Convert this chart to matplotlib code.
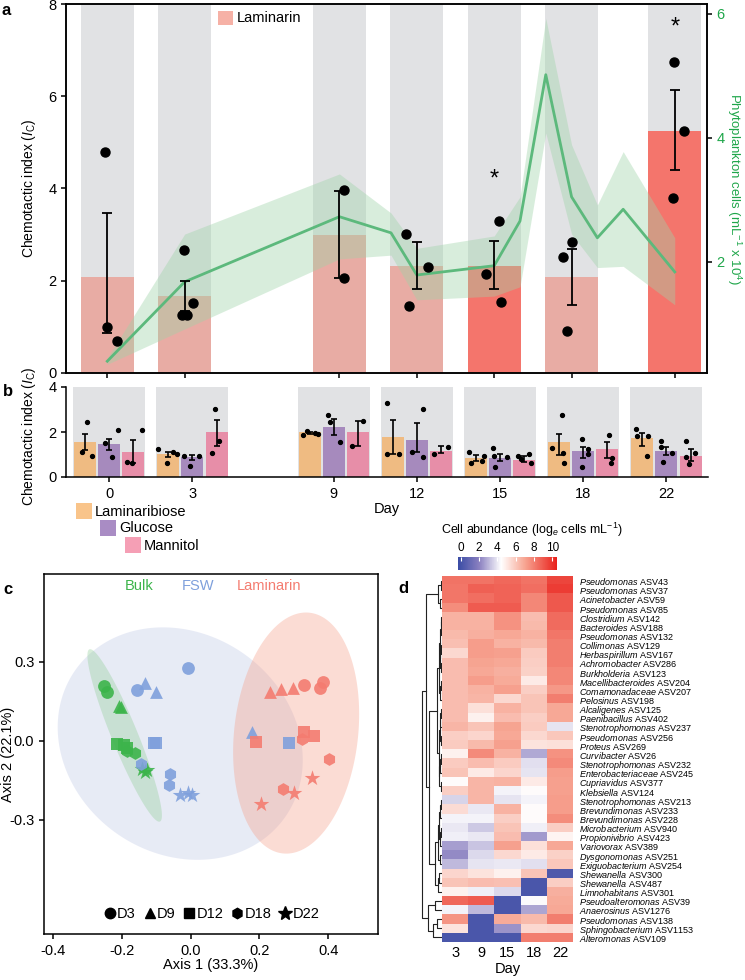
import numpy as np
import matplotlib
matplotlib.use("Agg")
import matplotlib.pyplot as plt
from matplotlib.patches import Rectangle, Polygon
from matplotlib.lines import Line2D
from matplotlib.colors import LinearSegmentedColormap

plt.rcParams['font.family'] = ['Liberation Sans', 'DejaVu Sans']
plt.rcParams['mathtext.fontset'] = 'custom'
plt.rcParams['mathtext.rm'] = 'Liberation Sans'
plt.rcParams['mathtext.it'] = 'Liberation Sans:italic'
plt.rcParams['mathtext.bf'] = 'Liberation Sans:bold'
plt.rcParams['axes.linewidth'] = 1.1
plt.rcParams['xtick.major.width'] = 1.1
plt.rcParams['ytick.major.width'] = 1.1

# ---------------- panel a: laminarin chemotaxis + phytoplankton
days = [0, 3, 9, 12, 15, 18, 22]
lam_mean = [2.08, 1.68, 3.0, 2.33, 2.33, 2.08, 5.25]
lam_lo = [0.86, 1.35, 2.05, 1.82, 1.82, 1.48, 4.41]
lam_hi = [3.47, 2.0, 3.95, 2.83, 2.86, 2.69, 6.13]
lam_sig = [False, False, False, False, True, False, True]
lam_pts = [
    [(-0.08, 4.79), (0.0, 1.0), (0.39, 0.69)],
    [(-0.04, 2.66), (-0.12, 1.26), (0.08, 1.26), (0.31, 1.52)],
    [(0.19, 3.97), (0.19, 2.05)],
    [(-0.43, 3.01), (0.43, 2.29), (-0.31, 1.45)],
    [(0.19, 3.30), (-0.31, 2.15), (0.27, 1.54)],
    [(-0.35, 2.52), (0.0, 2.84), (-0.19, 0.91)],
    [(-0.04, 6.75), (0.35, 5.25), (-0.08, 3.79)],
]
star_y = [None, None, None, None, 4.2, None, 7.5]

phyto_day = [0, 3, 9, 11, 12, 15, 16, 17, 18, 19, 20, 22]
phyto_mean = [0.40, 1.68, 2.73, 2.47, 1.79, 1.94, 2.66, 5.02, 3.05, 2.39, 2.85, 1.84]
phyto_lo = [0.35, 0.92, 2.05, 2.11, 1.39, 1.45, 1.6, 4.08, 2.45, 1.91, 1.93, 1.31]
phyto_hi = [0.45, 2.45, 3.42, 2.79, 2.22, 2.42, 3.05, 5.93, 3.89, 2.92, 3.78, 2.39]

# ---------------- panel b: other substrates
b_pos = [0, 1, 2.7, 3.7, 4.7, 5.7, 6.7]
lamb_mean = [1.55, 1.0, 2.0, 1.78, 0.85, 1.56, 1.73]
lamb_lo = [1.2, 0.9, 1.9, 1.02, 0.72, 0.98, 1.38]
lamb_hi = [1.91, 1.12, 2.0, 2.53, 0.98, 1.91, 1.96]
lamb_pts = [
    [(0.02, 2.44), (-0.04, 1.11), (0.08, 0.93)],
    [(-0.12, 1.24), (-0.02, 0.62), (0.06, 1.11), (0.1, 1.0)],
    [(-0.08, 1.87), (-0.03, 2.04), (0.07, 1.95), (0.1, 1.9)],
    [(-0.07, 3.28), (-0.07, 1.02), (0.07, 1.02)],
    [(-0.08, 1.1), (-0.06, 0.62), (0.07, 0.72), (0.1, 0.95)],
    [(0.03, 2.75), (-0.08, 1.29), (0.05, 1.07), (0.06, 0.62)],
    [(-0.08, 2.13), (-0.06, 1.82), (0.07, 1.82), (0.06, 0.93)],
]
glu_mean = [1.47, 0.9, 2.22, 1.64, 0.85, 1.16, 1.16]
glu_lo = [1.2, 0.75, 1.87, 1.11, 0.72, 0.84, 0.98]
glu_hi = [1.68, 0.97, 2.58, 2.38, 1.02, 1.34, 1.33]
glu_pts = [
    [(0.1, 2.07), (-0.05, 1.5), (0.03, 0.88)],
    [(-0.1, 0.93), (-0.03, 0.49), (0.08, 0.93)],
    [(-0.07, 2.75), (-0.05, 2.45), (0.08, 1.55)],
    [(0.07, 3.02), (-0.06, 1.11), (0.07, 0.88)],
    [(-0.08, 1.29), (-0.07, 0.93), (0.08, 0.89), (-0.06, 0.44)],
    [(-0.02, 1.68), (0.06, 1.24), (0.06, 1.02), (-0.02, 0.44)],
    [(-0.06, 1.6), (-0.07, 1.33), (0.07, 1.07), (-0.04, 0.67)],
]
man_mean = [1.1, 2.0, 2.0, 1.16, 0.75, 1.24, 0.93]
man_lo = [0.62, 1.38, 1.38, 1.05, 0.65, 0.85, 0.7]
man_hi = [1.63, 2.53, 2.49, 1.38, 0.95, 1.56, 1.24]
man_pts = [
    [(0.1, 2.1), (-0.08, 0.67), (-0.02, 0.62)],
    [(-0.02, 3.02), (0.03, 1.6), (-0.05, 1.07)],
    [(-0.07, 1.38), (0.06, 2.48)],
    [(0.08, 1.34), (-0.08, 1.02)],
    [(-0.07, 0.93), (0.06, 1.02), (0.08, 0.62), (-0.04, 0.8)],
    [(0.02, 1.87), (0.05, 0.84), (0.04, 0.6)],
    [(-0.05, 1.6), (0.05, 1.07), (-0.02, 0.58), (-0.05, 0.89)],
]

# ---------------- panel c: PCoA
bulk_x = [-0.252, -0.242, -0.208, -0.203, -0.213, -0.194, -0.186, -0.186, -0.161, -0.140, -0.132, -0.128]
bulk_y = [0.209, 0.185, 0.133, 0.128, -0.011, -0.015, -0.025, -0.04, -0.046, -0.108, -0.117, -0.11]
bulk_day = ['D3', 'D3', 'D9', 'D9', 'D12', 'D12', 'D12', 'D18', 'D18', 'D22', 'D22', 'D22']
fsw_x = [-0.008, -0.157, -0.132, -0.100, 0.178, -0.106, -0.101, 0.285, -0.060, -0.064, -0.144, -0.031, -0.007, 0.003]
fsw_y = [0.276, 0.194, 0.220, 0.185, 0.035, -0.009, -0.006, -0.009, -0.125, -0.167, -0.087, -0.205, -0.196, -0.205]
fsw_day = ['D3', 'D3', 'D9', 'D9', 'D9', 'D12', 'D12', 'D12', 'D18', 'D18', 'D18', 'D22', 'D22', 'D22']
lamc_x = [0.330, 0.375, 0.384, 0.231, 0.263, 0.299, 0.191, 0.330, 0.358, 0.324, 0.404, 0.268, 0.205, 0.300, 0.354]
lamc_y = [0.213, 0.203, 0.225, 0.187, 0.197, 0.200, -0.003, 0.033, 0.020, 0.006, -0.068, -0.182, -0.241, -0.199, -0.139]
lamc_day = ['D3', 'D3', 'D3', 'D9', 'D9', 'D9', 'D12', 'D12', 'D12', 'D18', 'D18', 'D18', 'D22', 'D22', 'D22']
# ellipse: centre, semi-axis vector 1, semi-axis vector 2
bulk_ell = [(-0.1915, 0.021), (-0.1025, 0.327), (0.035, 0.0187)]
fsw_ell = [(-0.03, -0.01), (-0.305, 0.279), (0.184, 0.342)]
lamc_ell = [(0.307, 0.030), (0.039, 0.457), (0.179, -0.026)]
day_markers = {'D3': 'o', 'D9': '^', 'D12': 's', 'D18': 'h', 'D22': '*'}

# ---------------- panel d: heatmap
heat_days = [3, 9, 15, 18, 22]
taxa = [
    ('Pseudomonas', 'ASV43'), ('Pseudomonas', 'ASV37'), ('Acinetobacter', 'ASV59'),
    ('Pseudomonas', 'ASV85'), ('Clostridium', 'ASV142'), ('Bacteroides', 'ASV188'),
    ('Pseudomonas', 'ASV132'), ('Collimonas', 'ASV129'), ('Herbaspirillum', 'ASV167'),
    ('Achromobacter', 'ASV286'), ('Burkholderia', 'ASV123'), ('Macellibacteroides', 'ASV204'),
    ('Comamonadaceae', 'ASV207'), ('Pelosinus', 'ASV198'), ('Alcaligenes', 'ASV125'),
    ('Paenibacillus', 'ASV402'), ('Stenotrophomonas', 'ASV237'), ('Pseudomonas', 'ASV256'),
    ('Proteus', 'ASV269'), ('Curvibacter', 'ASV26'), ('Stenotrophomonas', 'ASV232'),
    ('Enterobacteriaceae', 'ASV245'), ('Cupriavidus', 'ASV377'), ('Klebsiella', 'ASV124'),
    ('Stenotrophomonas', 'ASV213'), ('Brevundimonas', 'ASV233'), ('Brevundimonas', 'ASV228'),
    ('Microbacterium', 'ASV940'), ('Propionivibrio', 'ASV423'), ('Variovorax', 'ASV389'),
    ('Dysgonomonas', 'ASV251'), ('Exiguobacterium', 'ASV254'), ('Shewanella', 'ASV300'),
    ('Shewanella', 'ASV487'), ('Limnohabitans', 'ASV301'), ('Pseudoalteromonas', 'ASV39'),
    ('Anaerosinus', 'ASV1276'), ('Pseudomonas', 'ASV138'), ('Sphingobacterium', 'ASV1153'),
    ('Alteromonas', 'ASV109'),
]
abundance = np.array([
    [8.3, 8.3, 8.6, 8.3, 9.5], [8.2, 8.8, 8.7, 8.4, 9.7], [8.2, 8.4, 8.7, 7.8, 9.0],
    [7.6, 8.9, 8.9, 7.8, 9.0], [6.6, 6.6, 7.5, 6.3, 8.5], [6.6, 6.6, 7.5, 6.4, 8.5],
    [6.4, 6.7, 6.9, 6.6, 8.2], [6.2, 7.2, 6.6, 6.4, 8.0], [5.5, 7.2, 7.1, 5.9, 8.0],
    [6.3, 7.0, 6.9, 5.8, 8.0], [6.3, 6.9, 6.7, 5.7, 7.8], [6.3, 7.2, 6.8, 5.0, 7.8],
    [6.3, 6.6, 7.1, 5.8, 7.3], [6.3, 6.5, 5.5, 6.1, 8.0], [6.3, 5.3, 6.6, 6.1, 6.9],
    [6.3, 4.8, 6.3, 5.8, 6.9], [6.5, 6.1, 7.0, 5.9, 3.9], [5.8, 5.6, 6.9, 5.5, 6.0],
    [5.9, 6.4, 7.1, 5.2, 5.3], [4.8, 7.7, 6.6, 2.8, 7.5], [5.9, 6.3, 5.9, 3.8, 7.7],
    [6.1, 5.0, 5.6, 3.9, 7.2], [4.5, 6.5, 6.6, 5.0, 7.1], [5.8, 6.5, 4.2, 4.5, 7.1],
    [3.6, 6.5, 3.9, 4.2, 7.2], [5.4, 4.0, 6.6, 4.5, 7.2], [4.2, 4.2, 5.8, 4.5, 7.6],
    [4.0, 3.4, 6.1, 4.1, 5.8], [4.1, 4.0, 6.3, 2.5, 4.7], [2.6, 3.3, 7.1, 5.3, 6.9],
    [2.2, 3.7, 5.5, 5.0, 5.7], [3.1, 3.9, 4.0, 3.8, 6.0], [5.6, 5.2, 4.8, 6.1, 0.3],
    [6.1, 6.3, 6.2, 0.2, 5.8], [4.8, 4.1, 3.7, 0.2, 6.7], [8.6, 8.9, 0.2, 4.3, 6.8],
    [4.2, 3.1, 0.2, 2.7, 6.9], [7.4, 0.2, 6.8, 6.4, 8.0], [5.2, 0.2, 2.4, 5.5, 5.6],
    [0.2, 0.2, 0.2, 8.0, 8.0],
])
# dendrogram: (left, right, height), leaves are row indices
tree = (
    (
        ((0, 1, 1.2), (2, 3, 1.6), 3.5),
        (
            (
                ((((4, 5, 0.8), 6, 1.4), ((7, 8, 1.0), (9, 10, 0.9), 1.7), 2.3), ((11, 12, 1.1), 13, 1.8), 2.8),
                ((((14, 15, 1.0), 16, 1.5), (17, 18, 1.2), 2.1), (((19, 20, 1.3), 21, 1.9), (22, 23, 1.4), 2.4), 3.2),
                4.4),
            (
                ((((24, 25, 1.1), 26, 1.7), ((27, 28, 1.4), 29, 2.0), 2.6), (30, 31, 1.6), 3.6),
                ((32, 33, 2.6), 34, 3.8),
                6.5),
            11.7),
        15.0),
    ((35, 36, 6.7), ((37, 38, 5.0), 39, 8.3), 13.3),
    19.0)

W, H = 745, 980
GRAY = '#e1e2e4'
LAM_LIGHT = '#e8aca4'
LAM_BRIGHT = '#f4756c'
GREEN = '#1fa64a'
SUGAR_COL = ['#efbb82', '#a68abd', '#e78ea8']
SUGAR_LEG = ['#f9c48a', '#a98cc4', '#f59fb5']


def box(x0, y0, x1, y1):
    return [x0 / W, 1 - y1 / H, (x1 - x0) / W, (y1 - y0) / H]


def fig_patch(fig, x0, y0, x1, y1, color):
    fig.add_artist(Rectangle((x0 / W, 1 - y1 / H), (x1 - x0) / W, (y1 - y0) / H,
                             transform=fig.transFigure, color=color, lw=0))


fig = plt.figure(figsize=(7.45, 9.8), dpi=100)

# ================= panel a
ax = fig.add_axes(box(66, 4, 707, 373))
ax.bar(days, [8] * len(days), width=2.05, color=GRAY, zorder=0)
ax.bar(days, lam_mean, width=2.05, color=[LAM_BRIGHT if s else LAM_LIGHT for s in lam_sig], zorder=1)
ax.set_xlim(-1.6, 23.25)
ax.set_ylim(0, 8)
ax.set_yticks([0, 2, 4, 6, 8])
ax.set_xticks(days)
ax.set_xticklabels([])
ax.tick_params(labelsize=10.5, length=3.5)
ax.set_ylabel(r'Chemotactic index ($I_\mathrm{C}$)', fontsize=10, va='center')
ax.yaxis.set_label_coords(-0.058, 0.5)

ax2 = ax.twinx()
ax2.fill_between(phyto_day, phyto_lo, phyto_hi, color='#9fd4a9', alpha=0.4, lw=0)
ax2.plot(phyto_day, phyto_mean, color='#5cb97c', lw=2)
ax2.set_ylim(0.21, 6.16)
ax2.set_yticks([2, 4, 6])
ax2.tick_params(axis='y', labelcolor=GREEN, labelsize=10.5, length=3.5)
ax2.set_ylabel(r'Phytoplankton cells (mL$^{-1}$ x 10$^{4}$)', color=GREEN, fontsize=9.5,
               rotation=270, va='center')
ax2.yaxis.set_label_coords(1.043, 0.5)

# points/error bars drawn on top of the phytoplankton band
for d, lo, m, hi, pts, sy in zip(days, lam_lo, lam_mean, lam_hi, lam_pts, star_y):
    ax2.errorbar([d], [m], yerr=[[m - lo], [hi - m]], fmt='none', ecolor='black',
                 elinewidth=1.3, capsize=3.5, capthick=1.3, transform=ax.transData)
    ax2.plot([d + p[0] for p in pts], [p[1] for p in pts], 'o', color='black', ms=6.5,
             transform=ax.transData)
    if sy is not None:
        ax2.text(d, sy, '*', transform=ax.transData, ha='center', va='center', fontsize=17)
ax2.set_ylim(0.21, 6.16)

fig_patch(fig, 218, 11, 233, 25, '#f6b1a6')
fig.text(237 / W, 1 - 18 / H, 'Laminarin', fontsize=10.5, va='center')

# ================= panel b
axb = fig.add_axes(box(66, 387, 708, 477))
off = [-0.29, 0, 0.29]
for p in b_pos:
    axb.bar(p, 4, width=0.865, color=GRAY, zorder=0)
series = [(lamb_mean, lamb_lo, lamb_hi, lamb_pts), (glu_mean, glu_lo, glu_hi, glu_pts),
          (man_mean, man_lo, man_hi, man_pts)]
for k, (mean, lo, hi, pts) in enumerate(series):
    xs = [p + off[k] for p in b_pos]
    axb.bar(xs, mean, width=0.265, color=SUGAR_COL[k], zorder=1)
    axb.errorbar(xs, mean, yerr=[np.subtract(mean, lo), np.subtract(hi, mean)], fmt='none',
                 ecolor='black', elinewidth=1.2, capsize=2.5, capthick=1.2, zorder=3)
    for x, pp in zip(xs, pts):
        axb.plot([x + q[0] for q in pp], [q[1] for q in pp], 'o', color='black', ms=2.8, zorder=4)
axb.set_xlim(-0.52, 7.2)
axb.set_ylim(0, 4)
axb.set_yticks([0, 2, 4])
axb.set_xticks(b_pos)
axb.set_xticklabels(days)
axb.spines['top'].set_visible(False)
axb.spines['right'].set_visible(False)
axb.tick_params(labelsize=10.5, length=3.5)
axb.set_ylabel(r'Chemotactic index ($I_\mathrm{C}$)', fontsize=10, va='center')
axb.yaxis.set_label_coords(-0.058, 0.45)
axb.set_xlabel('Day', fontsize=10.5, labelpad=1)

for k, name in enumerate(['Laminaribiose', 'Glucose', 'Mannitol']):
    x0 = 76 + 24.5 * k
    y0 = 503 + 17 * k
    fig_patch(fig, x0, y0, x0 + 16, y0 + 16, SUGAR_LEG[k])
    fig.text((x0 + 19) / W, 1 - (y0 + 8.5) / H, name, fontsize=10.5, va='center')

# ================= panel c
axc = fig.add_axes(box(44, 574, 378, 934))
t = np.linspace(0, 2 * np.pi, 200)
for ell, col in [(fsw_ell, '#bdc6e5'), (lamc_ell, '#f69b84'), (bulk_ell, '#8fcc95')]:
    c, u, v = ell
    px = c[0] + u[0] * np.cos(t) + v[0] * np.sin(t)
    py = c[1] + u[1] * np.cos(t) + v[1] * np.sin(t)
    axc.add_patch(Polygon(np.column_stack([px, py]), closed=True, facecolor=col, alpha=0.35, lw=0))
for xs, ys, ds, col in [(bulk_x, bulk_y, bulk_day, '#3cb44b'), (fsw_x, fsw_y, fsw_day, '#7fa0dc'),
                        (lamc_x, lamc_y, lamc_day, '#f47c70')]:
    for x, y, d in zip(xs, ys, ds):
        axc.scatter(x, y, marker=day_markers[d], s=140 if d == 'D22' else 85, color=col,
                    alpha=0.9, lw=0, zorder=3)
axc.set_xlim(-0.426, 0.545)
axc.set_ylim(-0.733, 0.634)
axc.set_xticks([-0.4, -0.2, 0.0, 0.2, 0.4])
axc.set_xticklabels(['-0.4', '-0.2', '0.0', '0.2', '0.4'])
axc.set_yticks([-0.3, 0.0, 0.3])
axc.set_yticklabels(['-0.3', '0.0', '0.3'])
axc.tick_params(labelsize=10.5, length=3.5)
axc.set_xlabel('Axis 1 (33.3%)', fontsize=10.5, labelpad=0)
axc.set_ylabel('Axis 2 (22.1%)', fontsize=10.5, va='center')
axc.yaxis.set_label_coords(-0.108, 0.5)
for xt, txt, col in [(0.284, 'Bulk', '#3cb44b'), (0.461, 'FSW', '#7fa0dc'), (0.674, 'Laminarin', '#f47c70')]:
    axc.text(xt, 0.968, txt, transform=axc.transAxes, ha='center', va='center', color=col, fontsize=10.5)
handles = [Line2D([], [], marker=m, color='black', ls='none', ms=10 if d == 'D22' else 7.5)
           for d, m in day_markers.items()]
axc.legend(handles, list(day_markers.keys()), ncol=5, loc='lower center', bbox_to_anchor=(0.5, 0.0),
           frameon=False, fontsize=10.5, handletextpad=0.0, columnspacing=0.45, handlelength=1.0)

# ================= panel d
cmap = LinearSegmentedColormap.from_list(
    'abund', [(0.0, '#3a4ca5'), (0.213, '#8a80c0'), (0.435, '#ffffff'), (0.676, '#f7a592'), (1.0, '#e9201b')])
axh = fig.add_axes(box(442, 576, 573, 942))
im = axh.imshow(abundance, aspect='auto', cmap=cmap, vmin=-0.3, vmax=10.5, interpolation='nearest')
axh.set_xticks(range(len(heat_days)))
axh.set_xticklabels(heat_days)
axh.set_yticks(range(len(taxa)))
axh.set_yticklabels([r'$\mathit{%s}$ %s' % (g, a) for g, a in taxa])
axh.yaxis.tick_right()
axh.tick_params(axis='y', length=0, labelsize=6.5, pad=4)
axh.tick_params(axis='x', length=0, labelsize=10.5, pad=3)
axh.set_xlabel('Day', fontsize=10.5, labelpad=1)
for s in axh.spines.values():
    s.set_visible(False)

cax = fig.add_axes(box(458, 557, 557, 570))
cb = fig.colorbar(im, cax=cax, orientation='horizontal', ticks=[0, 2, 4, 6, 8, 10])
cb.outline.set_visible(False)
cax.xaxis.set_ticks_position('top')
cax.tick_params(direction='in', color='white', length=3, width=0.8, labelsize=8.5, pad=2)
fig.text(532 / W, 1 - 530 / H, r'Cell abundance (log$_{\mathit{e}}$ cells mL$^{-1}$)', fontsize=9,
         ha='center', va='center')

axd = fig.add_axes(box(421, 576, 442, 942))


def draw_node(node):
    if isinstance(node, int):
        return node, 0.0
    yl, hl = draw_node(node[0])
    yr, hr = draw_node(node[1])
    h = node[2]
    axd.plot([hl, h, h, hr], [yl, yl, yr, yr], color='#222222', lw=0.8)
    return (yl + yr) / 2, h


draw_node(tree)
axd.set_ylim(len(taxa) - 0.5, -0.5)
axd.set_xlim(19.6, 0)
axd.axis('off')

# panel letters
for x, y, s in [(2, 3, 'a'), (3, 384, 'b'), (3, 582, 'c'), (398, 581, 'd')]:
    fig.text(x / W, 1 - y / H, s, fontsize=12, fontweight='bold', va='top')

fig.savefig('out.png', dpi=100)
